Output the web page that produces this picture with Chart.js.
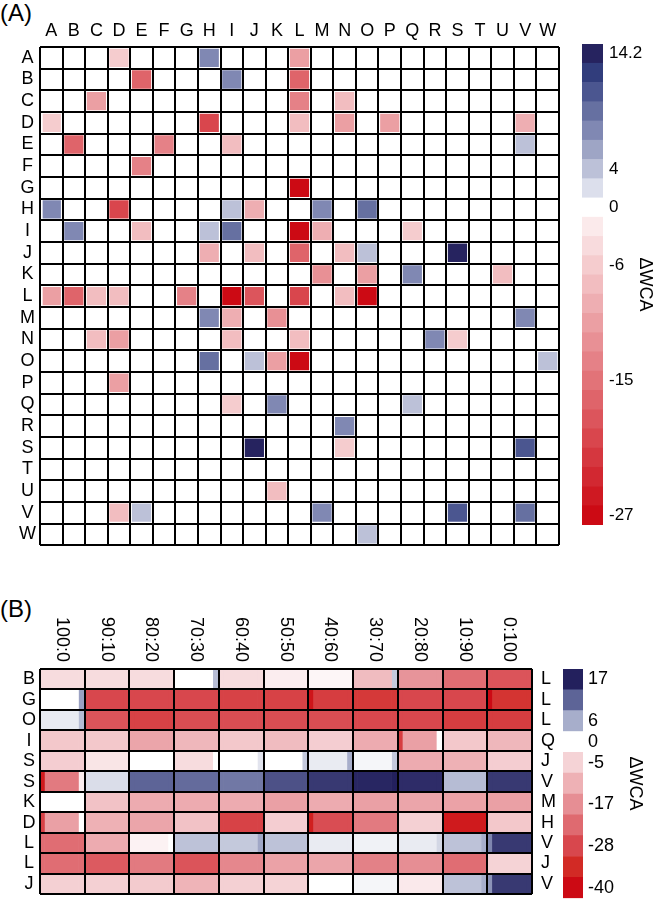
<!DOCTYPE html>
<html>
<head>
<meta charset="utf-8">
<script src="https://cdn.jsdelivr.net/npm/chart.js@4.4.1/dist/chart.umd.min.js"></script>
<style>
  body { margin: 0; background: #fff; font-family: "Liberation Sans", Arial, sans-serif; }
  #wrap { position: relative; width: 664px; height: 914px; overflow: hidden; }
  canvas { position: absolute; }
  .tag { position: absolute; font-size: 24px; line-height: 1; color: #000; }
</style>
</head>
<body>
<div id="wrap">
  <div class="tag" style="left:0;top:1px">(A)</div>
  <div class="tag" style="left:0;top:597px">(B)</div>
  <canvas id="heatA" width="570" height="560" style="left:0;top:0"></canvas>
  <canvas id="barA" width="94" height="560" style="left:570px;top:0"></canvas>
  <canvas id="heatB" width="563" height="354" style="left:0;top:560px"></canvas>
  <canvas id="barB" width="101" height="354" style="left:563px;top:560px"></canvas>
</div>
<script>
// ---- panel A data ----
const letters = ['A','B','C','D','E','F','G','H','I','J','K','L','M','N','O','P','Q','R','S','T','U','V','W'];

// rows A..W, columns A..W (ΔWCA)
const wcaA = [
  [0,0,0,-5, 0,0,0,7, 0,0,0,-10, 0,0,0,0, 0,0,0,0, 0,0,0],
  [0,0,0,0, -17,0,0,0, 7,0,0,-17, 0,0,0,0, 0,0,0,0, 0,0,0],
  [0,0,-10,0, 0,0,0,0, 0,0,0,-13, 0,-6,0,0, 0,0,0,0, 0,0,0],
  [-5,0,0,0, 0,0,0,-21, 0,0,0,-6, 0,-10,0,-10, 0,0,0,0, 0,-8,0],
  [0,-17,0,0, 0,-13,0,0, -7,0,0,0, 0,0,0,0, 0,0,0,0, 0,4,0],
  [0,0,0,0, -13,0,0,0, 0,0,0,0, 0,0,0,0, 0,0,0,0, 0,0,0],
  [0,0,0,0, 0,0,0,0, 0,0,0,-27, 0,0,0,0, 0,0,0,0, 0,0,0],
  [7,0,0,-21, 0,0,0,0, 4,-9,0,0, 6.5,0,9,0, 0,0,0,0, 0,0,0],
  [0,7.5,0,0, -7,0,0,4, 8.5,0,0,-27, -9,0,0,0, -5,0,0,0, 0,0,0],
  [0,0,0,0, 0,0,0,-9, 0,-6,0,-17, 0,-7,4,0, 0,0,14.2,0, 0,0,0],
  [0,0,0,0, 0,0,0,0, 0,0,0,0, -12,0,-10,0, 7,0,0,0, -6,0,0],
  [-10,-17,-7,-7, 0,0,-13,0, -27,-19,0,-20, 0,-7,-27,0, 0,0,0,0, 0,0,0],
  [0,0,0,0, 0,0,0,7, -9,0,-12,0, 0,0,0,0, 0,0,0,0, 0,7,0],
  [0,0,-6,-10, 0,0,0,0, -7,0,0,-7, 0,0,0,0, 0,7,-5,0, 0,0,0],
  [0,0,0,0, 0,0,0,9, 0,4,-10,-27, 0,0,0,0, 0,0,0,0, 0,0,3.5],
  [0,0,0,-10, 0,0,0,0, 0,0,0,0, 0,0,0,0, 0,0,0,0, 0,0,0],
  [0,0,0,0, 0,0,0,0, -5,0,7,0, 0,0,0,0, 3.5,0,0,0, 0,0,0],
  [0,0,0,0, 0,0,0,0, 0,0,0,0, 0,7,0,0, 0,0,0,0, 0,0,0],
  [0,0,0,0, 0,0,0,0, 0,14.2,0,0, 0,-5,0,0, 0,0,0,0, 0,11,0],
  [0,0,0,0, 0,0,0,0, 0,0,0,0, 0,0,0,0, 0,0,0,0, 0,0,0],
  [0,0,0,0, 0,0,0,0, 0,0,-6,0, 0,0,0,0, 0,0,0,0, 0,0,0],
  [0,0,0,-7, 4,0,0,0, 0,0,0,0, 7,0,0,0, 0,0,11,0, 0,9.5,0],
  [0,0,0,0, 0,0,0,0, 0,0,0,0, 0,0,3.5,0, 0,0,0,0, 0,0,0]
];

const cbATicks = ['14.2','','','','','','4','','0','','','-6','','','','','','-15','','','','','','','-27'];
const blueA = ['#26235f','#313d7c','#4b5690','#6670a1','#8088b3','#9ea5c5','#bcc1d8','#dcdfec'];

// ---- panel B data ----
const ratios = ['100:0','90:10','80:20','70:30','60:40','50:50','40:60','30:70','20:80','10:90','0:100'];
const rowsBLeft = ['B','G','O','I','S','S','K','D','L','L','J'];
const rowsBRight = ['L','L','L','Q','J','V','M','H','V','J','V'];

const wcaB = [
  [-4,-4,-4,0,-4,-2,-1,-9,-16,-22,-26],
  [0,-28,-28,-28,-29,-29,-30,-31,-28,-28,-32],
  [1.5,-26,-29,-27,-27,-27,-27,-28,-28,-30,-30],
  [-7,-7,-13,-10,-7,-9,-6,-12,-14,-7,-10],
  [-6,-3,0,-4,0,0,1.5,0.7,-12,-11,-6],
  [-20,2.5,11.5,11,10,13,15,16.5,16,5,15],
  [0,-8,-12,-12,-12,-14,-12,-14,-13,-13.5,-14],
  [-14,-11,-13,-8,-29,-6,-27,-20,-5.5,-37,-7],
  [-22,-12,-1.5,4.5,4,4.5,1.5,1,1.5,4.5,15],
  [-22,-25,-20,-26,-18,-13.5,-13,-19,-17,-22,-5],
  [-5.5,-5.5,-6.5,-10.5,-5.5,-5,0,0.7,-2.5,4.5,15]
];
// thin edge strips inside some cells (null = same as the cell)
const wcaBLeft = [
  [null,null,null,null,null,null,null,null,null,null,null],
  [null,null,null,null,null,null,-38,null,null,null,-40],
  [null,null,null,null,null,null,null,null,null,null,null],
  [null,null,null,null,null,null,null,null,-30,null,null],
  [null,null,null,null,null,null,null,null,null,null,null],
  [-37,null,null,null,null,null,null,null,null,null,null],
  [null,null,null,null,null,null,null,null,null,null,null],
  [-29,null,null,null,null,null,-36,null,null,null,null],
  [null,null,null,null,null,null,null,null,null,null,9],
  [null,null,null,null,null,null,null,null,null,null,null],
  [null,null,null,null,null,null,null,null,null,null,8]
];
const wcaBRight = [
  [null,null,null,5,null,null,null,4,null,null,null],
  [7,null,null,null,null,null,null,null,null,null,null],
  [5,null,null,null,null,null,null,null,null,null,null],
  [null,null,null,null,null,null,null,null,0,null,null],
  [null,null,null,0,2,4,6,4,null,null,null],
  [-2,null,null,null,null,null,null,17,null,null,null],
  [null,null,null,null,null,null,null,null,null,null,null],
  [0,null,null,null,null,null,null,null,null,null,null],
  [null,null,0,null,6.5,null,null,null,3,6,null],
  [null,null,null,null,null,null,null,null,null,null,null],
  [null,null,null,null,null,null,null,null,null,6,null]
];
const stripW = [0.1, 0.76, 0.14];

const cbBTicks = ['17','','6','0','-5','','-17','','-28','','-40'];
const cbBColors = ['#23205d','#5d6497','#a7aecb','#ffffff','#f5d3d6','#eeb1b5','#e68e94','#df6a70','#d8474d','#d22a25','#cc0a14'];
const stopsB = [[17,'#23205d'],[11.5,'#5d6497'],[6,'#a7aecb'],[0,'#ffffff'],[-5,'#f5d3d6'],[-11,'#eeb1b5'],
  [-17,'#e68e94'],[-22.5,'#df6a70'],[-28,'#d8474d'],[-34,'#d22a25'],[-40,'#cc0a14']];

// ---- helpers ----
function rgb(h) { const n = parseInt(h.slice(1), 16); return [n >> 16 & 255, n >> 8 & 255, n & 255]; }
function mix(a, b, t) {
  const A = rgb(a), B = rgb(b);
  return 'rgb(' + A.map((v, i) => Math.round(v + (B[i] - v) * t)).join(',') + ')';
}
const redA = [];
for (let k = 0; k < 16; k++) redA.push(mix('#fbeaeb', '#cc0a14', k / 15));
const cbAColors = blueA.concat(['#ffffff'], redA);

function colorA(v) {
  if (v > 0) return blueA[8 - Math.min(8, Math.max(1, Math.round(v / 14.2 * 8)))];
  if (v < 0) return redA[Math.min(16, Math.max(1, Math.round(-v / 27 * 16))) - 1];
  return '#ffffff';
}
function colorB(v) {
  for (let i = 0; i < stopsB.length - 1; i++) {
    const [v0, c0] = stopsB[i], [v1, c1] = stopsB[i + 1];
    if (v <= v0 && v >= v1) return mix(c0, c1, (v0 - v) / (v0 - v1));
  }
  return v > 0 ? stopsB[0][1] : stopsB[stopsB.length - 1][1];
}

Chart.defaults.font.family = '"Liberation Sans", Arial, sans-serif';
Chart.defaults.color = '#000';
const quiet = { legend: { display: false }, tooltip: { enabled: false } };
const gridLines = { color: '#000', lineWidth: 2, drawTicks: false, z: 1 };

// ---- panel A heatmap ----
new Chart(document.getElementById('heatA'), {
  type: 'bar',
  data: {
    labels: letters,
    datasets: letters.map((c, j) => ({
      label: c,
      data: letters.map(() => 1),
      backgroundColor: letters.map((r, i) => colorA(wcaA[i][j])),
      borderColor: 'rgba(255,255,255,0.45)',
      borderWidth: 2,
      borderSkipped: false,
      barPercentage: 1,
      categoryPercentage: 1
    }))
  },
  options: {
    indexAxis: 'y',
    responsive: false,
    animation: false,
    events: [],
    plugins: quiet,
    layout: { padding: { right: 11, bottom: 5 } },
    scales: {
      x: {
        type: 'linear', stacked: true, min: 0, max: 23, position: 'bottom',
        ticks: { display: false, stepSize: 1 },
        grid: gridLines,
        border: { display: false },
        afterFit: s => { s.height = 0; }
      },
      xl: {
        type: 'category', labels: letters, position: 'top', offset: true,
        grid: { display: false, drawTicks: false },
        border: { display: false },
        ticks: { font: { size: 18 }, padding: 5, autoSkip: false, maxRotation: 0 },
        afterFit: s => { s.height = 47; }
      },
      y: {
        type: 'category', stacked: true, offset: true,
        grid: Object.assign({ offset: true }, gridLines),
        border: { display: false },
        ticks: { font: { size: 18 }, crossAlign: 'center', padding: 4, autoSkip: false },
        afterFit: s => { s.width = 40; }
      }
    }
  }
});

// ---- panel A colour bar ----
new Chart(document.getElementById('barA'), {
  type: 'bar',
  data: {
    labels: cbATicks,
    datasets: [{ data: cbATicks.map(() => 1), backgroundColor: cbAColors, barPercentage: 1, categoryPercentage: 1 }]
  },
  options: {
    indexAxis: 'y',
    responsive: false,
    animation: false,
    events: [],
    plugins: quiet,
    layout: { padding: { left: 12, top: 44, bottom: 35 } },
    scales: {
      x: { display: false, min: 0, max: 1 },
      y: {
        position: 'right',
        grid: { display: false, drawTicks: false },
        border: { display: false },
        ticks: { font: { size: 17 }, padding: 6, autoSkip: false },
        title: { display: true, text: 'ΔWCA', font: { size: 18 }, padding: { top: 8, bottom: 0 } },
        afterFit: s => { s.width = 61; }
      }
    }
  }
});

// ---- panel B heatmap ----
const dsB = [];
ratios.forEach((r, c) => {
  [wcaBLeft, wcaB, wcaBRight].forEach((src, p) => {
    dsB.push({
      label: r + '-' + p,
      data: rowsBLeft.map(() => stripW[p]),
      backgroundColor: rowsBLeft.map((_, i) => colorB(src[i][c] === null ? wcaB[i][c] : src[i][c])),
      borderWidth: 0,
      barPercentage: 1,
      categoryPercentage: 1
    });
  });
});

new Chart(document.getElementById('heatB'), {
  type: 'bar',
  data: { labels: rowsBLeft, datasets: dsB },
  options: {
    indexAxis: 'y',
    responsive: false,
    animation: false,
    events: [],
    plugins: quiet,
    layout: { padding: { bottom: 1 } },
    scales: {
      x: {
        type: 'linear', stacked: true, min: 0, max: 11, position: 'bottom',
        ticks: { display: false, stepSize: 1 },
        grid: gridLines,
        border: { display: false },
        afterFit: s => { s.height = 0; }
      },
      xl: {
        type: 'category', labels: ratios, position: 'top', offset: true,
        grid: { display: false, drawTicks: false },
        border: { display: false },
        ticks: { font: { size: 18 }, minRotation: -90, maxRotation: -90, padding: 52, labelOffset: -22, autoSkip: false },
        afterFit: s => { s.height = 109; }
      },
      y: {
        type: 'category', stacked: true, offset: true,
        grid: Object.assign({ offset: true }, gridLines),
        border: { display: false },
        ticks: { font: { size: 18 }, crossAlign: 'center', padding: 4, autoSkip: false },
        afterFit: s => { s.width = 40; }
      },
      y2: {
        type: 'category', labels: rowsBRight, position: 'right', offset: true,
        grid: { display: false, drawTicks: false },
        border: { display: false },
        ticks: { font: { size: 18 }, padding: 9, autoSkip: false },
        afterFit: s => { s.width = 29; }
      }
    }
  }
});

// ---- panel B colour bar ----
new Chart(document.getElementById('barB'), {
  type: 'bar',
  data: {
    labels: cbBTicks,
    datasets: [{ data: cbBTicks.map(() => 1), backgroundColor: cbBColors, barPercentage: 1, categoryPercentage: 1 }]
  },
  options: {
    indexAxis: 'y',
    responsive: false,
    animation: false,
    events: [],
    plugins: quiet,
    layout: { padding: { top: 109, bottom: 2 } },
    scales: {
      x: { display: false, min: 0, max: 1 },
      y: {
        position: 'right',
        grid: { display: false, drawTicks: false },
        border: { display: false },
        ticks: { font: { size: 18 }, padding: 5, autoSkip: false },
        title: { display: true, text: 'ΔWCA', font: { size: 18 }, padding: { top: 18, bottom: 0 } },
        afterFit: s => { s.width = 81; }
      }
    }
  }
});
</script>
</body>
</html>
